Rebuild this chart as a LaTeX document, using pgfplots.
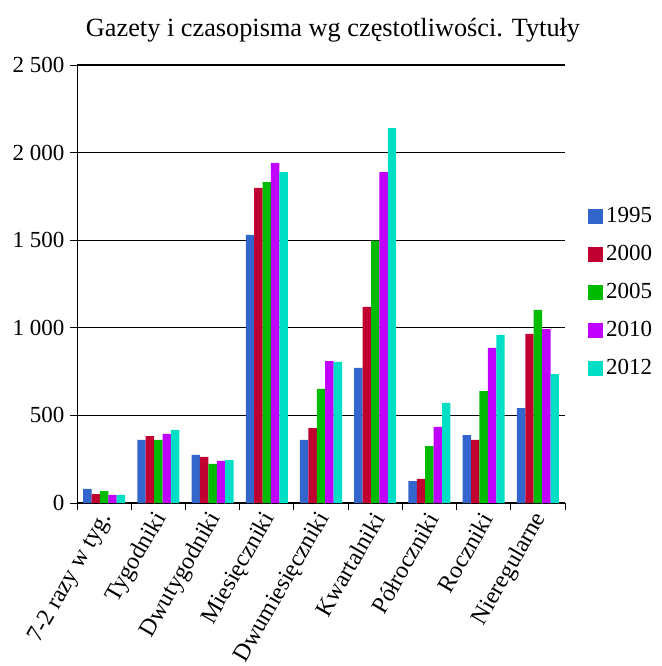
\documentclass[border=0pt]{standalone}
\usepackage{fontspec}
\setmainfont{Liberation Serif}
\usepackage{pgfplots}
\pgfplotsset{compat=1.18}
\definecolor{cA}{HTML}{3366CC}
\definecolor{cB}{HTML}{C00030}
\definecolor{cC}{HTML}{00BB00}
\definecolor{cD}{HTML}{C000FF}
\definecolor{cE}{HTML}{00DFC6}
\begin{document}
\begin{tikzpicture}
\path[use as bounding box] (-77pt,-163pt) rectangle (584pt,503pt);
\node[anchor=base, font=\fontsize{26.3}{30}\selectfont] at (256pt,466pt) {Gazety i czasopisma wg częstotliwości. Tytuły};
\begin{axis}[
  at={(0pt,0pt)}, anchor=south west,
  scale only axis, width=488pt, height=438pt,
  ybar=0pt, bar width=0.155,
  xmin=-0.5, xmax=8.5, ymin=0, ymax=2500,
  axis x line*=bottom, axis y line*=left,
  x axis line style={line width=1.2pt},
  y axis line style={line width=0.8pt},
  xtick={-0.5,0.5,...,8.5},
  x tick label as interval,
  xticklabels={7-2 razy w tyg.,Tygodniki,Dwutygodniki,Miesięczniki,Dwumiesięczniki,Kwartalniki,Półroczniki,Roczniki,Nieregularne},
  xticklabel style={xshift=5pt, yshift=-2pt, rotate=60, anchor=east, font=\fontsize{24}{27}\selectfont},
  ytick={0,500,...,2500},
  yticklabels={0,500,1 000,1 500,2 000,2 500},
  yticklabel style={xshift=-2pt, font=\fontsize{23}{26}\selectfont},
  ymajorgrids, grid style={black, line width=1.2pt},
  tick align=outside, major tick length=7pt,
  tick style={black, line width=0.8pt},
  legend style={draw=none, at={(1,0.5)}, anchor=west, xshift=20pt, yshift=-9pt,
    font=\fontsize{23}{26}\selectfont, row sep=11pt,
    nodes={text height=16pt, text depth=5pt, inner sep=3pt}},
  legend cell align=left,
  legend image code/.code={\fill[#1] (0pt,-7.5pt) rectangle (15pt,7.5pt);},
]
\addplot[fill=cA, draw=none] coordinates {(0,80) (1,360) (2,274) (3,1530) (4,360) (5,771) (6,125) (7,388) (8,542)};
\addplot[fill=cB, draw=none] coordinates {(0,51) (1,382) (2,263) (3,1798) (4,428) (5,1119) (6,137) (7,360) (8,965)};
\addplot[fill=cC, draw=none] coordinates {(0,68) (1,360) (2,223) (3,1832) (4,651) (5,1497) (6,325) (7,639) (8,1102)};
\addplot[fill=cD, draw=none] coordinates {(0,46) (1,394) (2,240) (3,1941) (4,810) (5,1889) (6,434) (7,885) (8,993)};
\addplot[fill=cE, draw=none] coordinates {(0,46) (1,417) (2,245) (3,1889) (4,805) (5,2140) (6,571) (7,959) (8,736)};
\legend{1995,2000,2005,2010,2012}
\end{axis}
\end{tikzpicture}
\end{document}
